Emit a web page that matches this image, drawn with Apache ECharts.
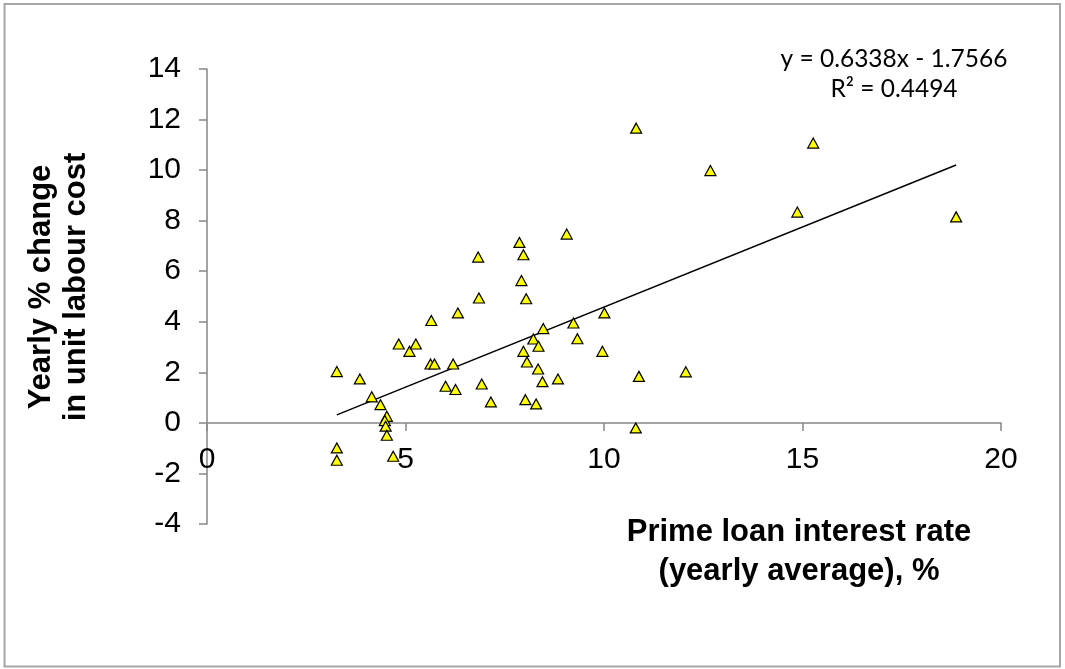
<!DOCTYPE html>
<html>
<head>
<meta charset="utf-8">
<script src="https://cdn.jsdelivr.net/npm/echarts@6/dist/echarts.min.js"></script>
<style>
html,body{margin:0;padding:0;background:#fff;}
#chart{width:1065px;height:669px;}
</style>
</head>
<body>
<div id="chart"></div>
<script>
// Prime loan interest rate (yearly average), %
const xVals = [3.27, 3.27, 3.27, 3.85, 4.15, 4.37, 4.53, 4.48, 4.5, 4.53, 4.69, 4.83, 5.1, 5.26, 5.65, 5.63, 5.73, 6.01, 6.2, 6.26, 6.32, 6.83, 6.85, 6.92, 7.15, 7.87, 7.92, 7.97, 7.97, 8.04, 8.02, 8.06, 8.22, 8.35, 8.34, 8.29, 8.45, 8.47, 8.84, 9.06, 9.23, 9.33, 9.96, 10.01, 10.81, 10.8, 10.88, 12.06, 12.68, 14.87, 15.27, 18.87];
// Yearly % change in unit labour cost
const yVals = [2.03, -0.99, -1.48, 1.74, 1.03, 0.72, 0.26, 0.09, -0.13, -0.49, -1.32, 3.12, 2.83, 3.12, 4.05, 2.33, 2.33, 1.45, 2.33, 1.32, 4.35, 6.56, 4.94, 1.54, 0.83, 7.14, 5.63, 6.65, 2.83, 4.91, 0.92, 2.41, 3.32, 3.03, 2.13, 0.75, 1.63, 3.73, 1.74, 7.47, 3.95, 3.33, 2.83, 4.35, 11.66, -0.2, 1.84, 2.02, 9.98, 8.34, 11.07, 8.15];
// Linear trendline (as reported on the chart)
const slope = 0.6338;
const intercept = -1.7566;
const rSquared = 0.4494;
const xTicks = [0, 5, 10, 15, 20];
const yTicks = [-4, -2, 0, 2, 4, 6, 8, 10, 12, 14];

const points = xVals.map((x, i) => [x, yVals[i]]);
const xMin = Math.min(...xVals), xMax = Math.max(...xVals);
const trend = [[xMin, slope * xMin + intercept], [xMax, slope * xMax + intercept]];

const W = 1065, H = 669;
const gridLeft = 207, gridTop = 69, gridRight = 64, gridBottom = 145;
const yMin = yTicks[0], yMax = yTicks[yTicks.length - 1];
const plotH = H - gridTop - gridBottom;
// move the x axis (line, ticks, labels) up so it crosses the y axis at 0
const xAxisOffset = -plotH * (0 - yMin) / (yMax - yMin);

const chart = echarts.init(document.getElementById('chart'), null, {renderer: 'canvas'});
const axisColor = '#868686';
const tickFont = {fontFamily: 'Liberation Sans, Arial, sans-serif', fontSize: 30, color: '#000'};

chart.setOption({
  animation: false,
  backgroundColor: '#fff',
  grid: {left: gridLeft, top: gridTop, right: gridRight, bottom: gridBottom, containLabel: false},
  xAxis: {
    type: 'value',
    position: 'bottom',
    offset: xAxisOffset,
    min: xTicks[0], max: xTicks[xTicks.length - 1], interval: 5,
    axisLine: {show: true, onZero: false, lineStyle: {color: axisColor, width: 1.5}},
    axisTick: {show: true, inside: false, length: 8, lineStyle: {color: axisColor, width: 1.5}},
    axisLabel: Object.assign({margin: 22, showMaxLabel: true, showMinLabel: true}, tickFont),
    splitLine: {show: false}
  },
  yAxis: {
    type: 'value',
    min: yMin, max: yMax, interval: 2,
    axisLine: {show: true, onZero: false, lineStyle: {color: axisColor, width: 1.5}},
    axisTick: {show: true, inside: false, length: 8, lineStyle: {color: axisColor, width: 1.5}},
    axisLabel: Object.assign({margin: 26}, tickFont),
    splitLine: {show: false}
  },
  series: [
    {
      type: 'line',
      data: trend,
      symbol: 'none',
      lineStyle: {color: '#000', width: 1.5},
      z: 2
    },
    {
      type: 'scatter',
      data: points,
      symbol: 'triangle',
      symbolSize: [11, 10],
      itemStyle: {color: '#FFFF00', borderColor: '#000', borderWidth: 1.2, opacity: 1},
      z: 3
    }
  ],
  graphic: [
    {
      type: 'rect', silent: true, z: -10,
      shape: {x: 4.5, y: 4, width: 1055.5, height: 662.5},
      style: {fill: 'none', stroke: '#a6a6a6', lineWidth: 2}
    },
    {
      type: 'text', x: 894, y: 59,
      style: {text: 'y = ' + slope.toFixed(4) + 'x - ' + Math.abs(intercept).toFixed(4), fill: '#000',
        font: '24.5px Lato, "Open Sans", sans-serif', align: 'center', verticalAlign: 'middle'}
    },
    {
      type: 'text', x: 894, y: 89,
      style: {text: 'R\u00B2 = ' + rSquared.toFixed(4), fill: '#000',
        font: '24.5px Lato, "Open Sans", sans-serif', align: 'center', verticalAlign: 'middle'}
    },
    {
      type: 'text', x: 799, y: 552,
      style: {text: 'Prime loan interest rate\n(yearly average), %', fill: '#000',
        font: 'bold 31px "Liberation Sans", Arial, sans-serif', align: 'center', verticalAlign: 'middle', lineHeight: 39}
    },
    {
      type: 'text', x: 59, y: 287, rotation: Math.PI / 2,
      style: {text: 'Yearly % change\nin unit labour cost', fill: '#000',
        font: 'bold 31px "Liberation Sans", Arial, sans-serif', align: 'center', verticalAlign: 'middle', lineHeight: 35}
    }
  ]
});
</script>
</body>
</html>
